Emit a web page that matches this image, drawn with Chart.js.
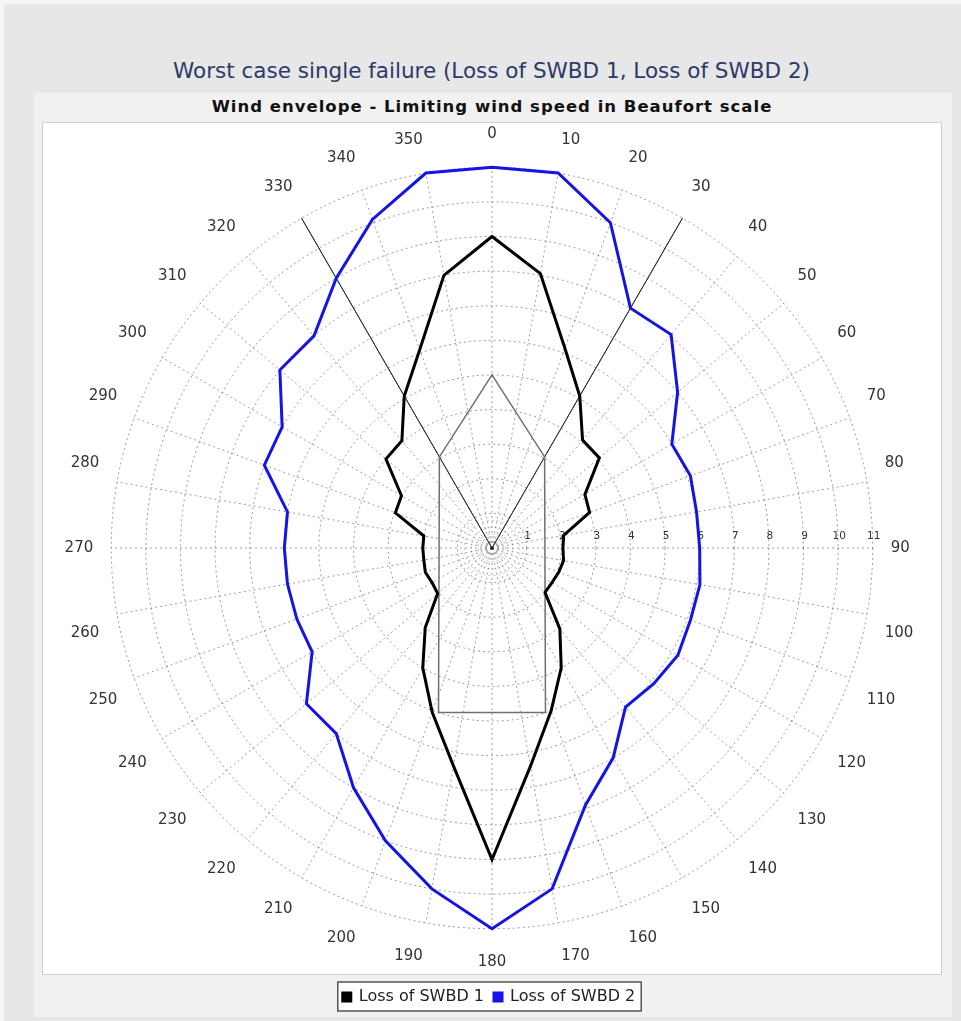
<!DOCTYPE html>
<html lang="en">
<head>
    <meta charset="UTF-8">
    <title>Wind envelope - Limiting wind speed in Beaufort scale</title>
    <style>
        body {
            margin: 0;
            width: 961px;
            height: 1021px;
            position: relative;
            overflow: hidden;
            background-color: #f6f6f6;
            font-family: 'DejaVu Sans', sans-serif;
        }
        #frame {
            position: absolute;
            left: 4px; top: 4px; right: 0; bottom: 0;
            background-color: #e7e7e7;
        }
        #title {
            position: absolute;
            left: 0; width: 983px; top: 58px;
            text-align: center;
            font-family: 'DejaVu Sans', sans-serif;
            font-size: 21.5px;
            color: #2b3a6a;
        }
        #panel {
            position: absolute;
            left: 34px; top: 93px; width: 918px; height: 924px;
            background-color: #f1f1f1;
        }
        #subtitle {
            position: absolute;
            left: 0; width: 984px; top: 97px;
            text-align: center;
            font-weight: bold;
            font-size: 16.5px;
            letter-spacing: 1px;
            color: #111;
        }
        #plotBox {
            position: absolute;
            left: 42px; top: 122px; width: 898px; height: 851px;
            background-color: #fff;
            border: 1px solid #cfcfcf;
        }
        canvas {
            position: absolute;
            left: 0; top: 0;
        }
    </style>
</head>
<body>
    <div id="frame"></div>
    <div id="title">Worst case single failure (Loss of SWBD 1, Loss of SWBD 2)</div>
    <div id="panel"></div>
    <div id="subtitle">Wind envelope - Limiting wind speed in Beaufort scale</div>
    <div id="plotBox"></div>
    <canvas id="windChart" width="961" height="1021"></canvas>

    <script src="https://cdn.jsdelivr.net/npm/chart.js"></script>
    <script>
        // wind direction (deg) and limiting Beaufort number, read every 10 deg
        const directions = [0, 10, 20, 30, 40, 50, 60, 70, 80, 90, 100, 110,
            120, 130, 140, 150, 160, 170, 180, 190, 200, 210, 220, 230,
            240, 250, 260, 270, 280, 290, 300, 310, 320, 330, 340, 350];
        const lossSwbd1 = [9.0, 8.05, 6.15, 5.07, 4.07, 4.05, 3.1, 3.0, 2.1, 2.05, 2.1, 2.05,
            2.0, 2.0, 3.05, 4.0, 5.0, 6.4, 9.0, 6.4, 5.05, 4.0, 3.0, 2.05,
            2.0, 2.05, 2.0, 2.0, 2.0, 2.97, 3.02, 4.0, 4.05, 5.07, 6.1, 8.0];
        const lossSwbd2 = [11.0, 11.0, 10.0, 8.0, 8.05, 7.0, 6.0, 6.1, 6.0, 6.0, 6.1, 6.1,
            6.2, 6.1, 6.0, 7.0, 7.9, 10.0, 11.0, 10.0, 9.0, 8.0, 7.0, 7.0,
            6.0, 6.0, 6.0, 6.0, 6.0, 7.0, 7.0, 8.0, 8.0, 9.0, 10.1, 11.0];

        // vessel outline (bow point, rectangle corners) and the two 30 deg sector lines
        const vesselDirections = [0, 30, 162, 198, 330];
        const vesselRadius = [5.0, 3.04, 5.0, 5.0, 3.04];
        const sectorDirections = [30, 330];
        const sectorLength = 11;

        const radialTicks = [1, 2, 3, 4, 5, 6, 7, 8, 9, 10, 11];
        const minorRings = [0.2, 0.4, 0.6, 0.8];
        const degreeLabels = Array.from({ length: 360 }, (_, d) => d);

        // put values on the 1 degree compass, null elsewhere
        function onCompass(dirs, values) {
            const out = degreeLabels.map(() => null);
            dirs.forEach((d, i) => { out[d] = values[i]; });
            return out;
        }

        function sectorLine(dir) {
            return {
                label: 'sector ' + dir,
                data: onCompass([0, dir], [0, sectorLength]),
                borderColor: '#3a3a3a',
                borderWidth: 1,
                spanGaps: true,
                pointRadius: 0,
                fill: false
            };
        }

        // Beaufort numbers along the 90 deg spoke, kept upright
        const beaufortTicks = {
            id: 'beaufortTicks',
            beforeDatasetsDraw(chart) {
                const scale = chart.scales.r;
                const ctx = chart.ctx;
                ctx.save();
                ctx.font = '10.5px "DejaVu Sans"';
                ctx.fillStyle = '#333';
                ctx.textAlign = 'center';
                ctx.textBaseline = 'middle';
                radialTicks.forEach(v => {
                    const p = scale.getPointPositionForValue(90, v);
                    ctx.fillText(String(v), p.x + 1, p.y - 12);
                });
                ctx.restore();
            }
        };

        // white box with a dark frame behind the legend
        const legendFrame = {
            id: 'legendFrame',
            beforeDraw(chart) {
                const boxes = chart.legend.legendHitBoxes;
                if (!boxes || !boxes.length) return;
                const left = Math.min(...boxes.map(b => b.left)) - 5;
                const right = Math.max(...boxes.map(b => b.left + b.width)) + 6;
                const top = Math.min(...boxes.map(b => b.top)) - 7;
                const bottom = Math.max(...boxes.map(b => b.top + b.height)) + 6;
                const ctx = chart.ctx;
                ctx.save();
                ctx.fillStyle = '#fff';
                ctx.fillRect(left, top, right - left, bottom - top);
                ctx.strokeStyle = '#555';
                ctx.lineWidth = 1.5;
                ctx.strokeRect(left, top, right - left, bottom - top);
                ctx.restore();
            }
        };

        const ctx = document.getElementById('windChart').getContext('2d');
        new Chart(ctx, {
            type: 'radar',
            data: {
                labels: degreeLabels,
                datasets: [{
                    label: 'Loss of SWBD 1',
                    data: onCompass(directions, lossSwbd1),
                    borderColor: '#000',
                    backgroundColor: '#000',
                    borderWidth: 3,
                    spanGaps: true,
                    pointRadius: 0,
                    fill: false
                }, {
                    label: 'Loss of SWBD 2',
                    data: onCompass(directions, lossSwbd2),
                    borderColor: '#1414e6',
                    backgroundColor: '#1414e6',
                    borderWidth: 3,
                    spanGaps: true,
                    pointRadius: 0,
                    fill: false
                }, {
                    label: 'vessel',
                    data: onCompass(vesselDirections, vesselRadius),
                    borderColor: '#707070',
                    borderWidth: 1.5,
                    spanGaps: true,
                    pointRadius: 0,
                    fill: false
                },
                sectorLine(sectorDirections[0]),
                sectorLine(sectorDirections[1])]
            },
            options: {
                responsive: false,
                animation: false,
                devicePixelRatio: 1,
                layout: {
                    padding: { top: 118.5, bottom: 6, left: 39, right: 22 }
                },
                scales: {
                    r: {
                        min: 0,
                        max: 11,
                        ticks: { display: false, stepSize: 1 },
                        afterBuildTicks: (scale) => {
                            scale.ticks = [0, ...minorRings, ...radialTicks].map(v => ({ value: v }));
                        },
                        grid: {
                            circular: true,
                            color: (c) => c.tick && c.tick.value < 1 ? 'rgba(0,0,0,0.25)' : 'rgba(0,0,0,0.4)',
                            lineWidth: 1
                        },
                        border: { dash: [2, 3] },
                        angleLines: {
                            color: 'rgba(0,0,0,0.38)',
                            lineWidth: (c) => c.index % 10 === 0 ? 1 : 0,
                            borderDash: [2, 3]
                        },
                        pointLabels: {
                            display: true,
                            padding: 18,
                            color: '#333',
                            font: { family: 'DejaVu Sans', size: 15, lineHeight: 2.05 },
                            callback: (label, index) => index % 10 === 0 ? String(label) : ''
                        }
                    }
                },
                plugins: {
                    tooltip: { enabled: false },
                    legend: {
                        position: 'bottom',
                        labels: {
                            boxWidth: 8,
                            boxHeight: 8,
                            padding: 10,
                            color: '#222',
                            font: { family: 'DejaVu Sans', size: 16 },
                            filter: (item) => item.datasetIndex < 2
                        }
                    }
                }
            },
            plugins: [beaufortTicks, legendFrame]
        });
    </script>
</body>
</html>
